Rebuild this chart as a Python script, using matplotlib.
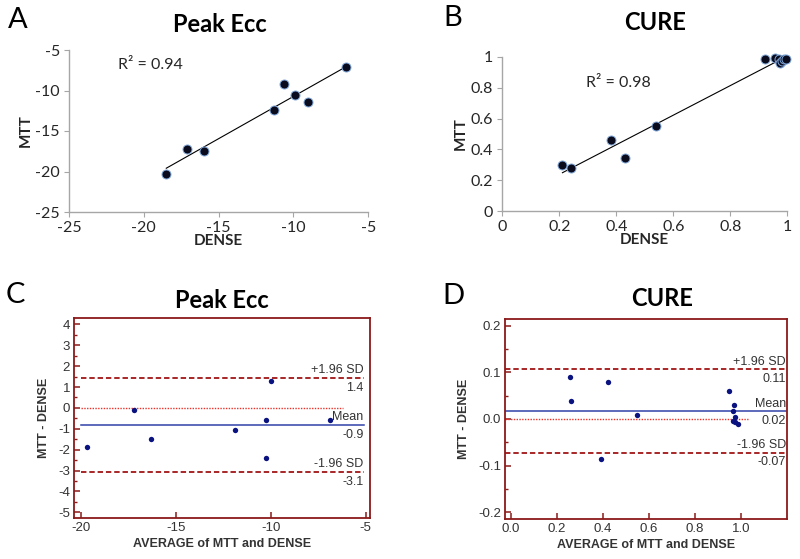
import numpy as np
import matplotlib
matplotlib.use("Agg")
import matplotlib.pyplot as plt

plt.rcParams["axes.unicode_minus"] = False

# ---------------- data ----------------
A_dense = [-18.5, -17.1, -16.0, -11.3, -10.6, -9.9, -9.0, -6.5]
A_mtt = [-20.35, -17.2, -17.45, -12.35, -9.25, -10.5, -11.4, -7.05]

B_dense = [0.211, 0.241, 0.380, 0.430, 0.540, 0.920, 0.957, 0.971, 0.975, 0.980, 0.990, 0.997]
B_mtt = [0.297, 0.278, 0.459, 0.345, 0.550, 0.982, 0.990, 0.985, 0.962, 0.972, 0.985, 0.988]

C_avg = [-19.65, -17.18, -16.29, -11.88, -10.25, -10.25, -10.0, -6.87]
C_diff = [-1.87, -0.09, -1.49, -1.07, -0.58, -2.38, 1.30, -0.58]
C_limits = [1.42, -0.84, -3.09]
C_limit_labels = ["1.4", "-0.9", "-3.1"]

D_avg = [0.255, 0.262, 0.392, 0.422, 0.546, 0.948, 0.968, 0.966, 0.976, 0.965, 0.975, 0.988]
D_diff = [0.089, 0.039, -0.085, 0.080, 0.009, 0.060, 0.031, 0.017, 0.005, -0.005, -0.007, -0.011]
D_limits = [0.1065, 0.0165, -0.0729]
D_limit_labels = ["0.11", "0.02", "-0.07"]

limit_names = ["+1.96 SD", "Mean", "-1.96 SD"]

A_xticks = [-25, -20, -15, -10, -5]
A_yticks = [-25, -20, -15, -10, -5]
B_ticks = [0, 0.2, 0.4, 0.6, 0.8, 1]
B_ticklabels = ["0", "0.2", "0.4", "0.6", "0.8", "1"]
C_xticks = [-20, -15, -10, -5]
C_yticks = [4, 3, 2, 1, 0, -1, -2, -3, -4, -5]
D_xticks = [0.0, 0.2, 0.4, 0.6, 0.8, 1.0]
D_yticks = [0.2, 0.1, 0.0, -0.1, -0.2]

titles = ["Peak Ecc", "CURE", "Peak Ecc", "CURE"]
letters = ["A", "B", "C", "D"]
r2_texts = ["R\u00b2 = 0.94", "R\u00b2 = 0.98"]

# ---------------- figure ----------------
W, H = 800, 559
fig = plt.figure(figsize=(W / 100, H / 100), dpi=100)

def rect(l, r, t, b):
    return [l / W, 1 - b / H, (r - l) / W, (b - t) / H]

SANS1 = "Lato"
SANS2 = "Liberation Sans"
GRAY = "#a6a6a6"
TXT = "#262626"

axA = fig.add_axes(rect(69, 368.3, 50, 212))
axB = fig.add_axes(rect(502.3, 787.3, 56.7, 211.3))
axC = fig.add_axes(rect(74.3, 370, 317.7, 517.7))
axD = fig.add_axes(rect(505.3, 786.7, 319.3, 518.5))

def style_scatter_ax(ax):
    for s in ["top", "right"]:
        ax.spines[s].set_visible(False)
    for s in ["left", "bottom"]:
        ax.spines[s].set_color(GRAY)
        ax.spines[s].set_linewidth(1.0)
    ax.tick_params(direction="out", length=3.5, width=0.8, color=GRAY,
                   labelsize=11.5, labelcolor=TXT, pad=3)
    for lab in ax.get_xticklabels() + ax.get_yticklabels():
        lab.set_fontfamily(SANS1)

# Panel A
axA.scatter(A_dense, A_mtt, s=42, color="#0b0b1e", edgecolors="#7fa6d8",
            linewidths=0.7, zorder=3, clip_on=False)
pa = np.polyfit(A_dense, A_mtt, 1)
xa = np.array([min(A_dense), max(A_dense)])
axA.plot(xa, np.polyval(pa, xa), color="black", lw=0.8, zorder=2)
axA.set_xlim(-25, -5)
axA.set_ylim(-25, -5)
axA.set_xticks(A_xticks)
axA.set_yticks(A_yticks)
style_scatter_ax(axA)
axA.text(-21.75, -6.9, r2_texts[0], fontsize=11.5, family=SANS1, color=TXT,
         ha="left", va="center")

# Panel B
axB.scatter(B_dense, B_mtt, s=42, color="#0b0b1e", edgecolors="#7fa6d8",
            linewidths=0.7, zorder=3, clip_on=False)
pb = np.polyfit(B_dense, B_mtt, 1)
xb = np.array([min(B_dense), max(B_dense)])
axB.plot(xb, np.polyval(pb, xb), color="black", lw=0.8, zorder=2)
axB.set_xlim(0, 1)
axB.set_ylim(0, 1)
axB.set_xticks(B_ticks)
axB.set_xticklabels(B_ticklabels)
axB.set_yticks(B_ticks)
axB.set_yticklabels(B_ticklabels)
style_scatter_ax(axB)
axB.text(0.293, 0.83, r2_texts[1], fontsize=11.5, family=SANS1, color=TXT,
         ha="left", va="center")

for ax in (axA, axB):
    ax.set_xlabel("DENSE", fontsize=11, fontweight="bold", family=SANS1,
                  color=TXT, labelpad=-1)
    ax.set_ylabel("MTT", fontsize=11, fontweight="bold", family=SANS1,
                  color=TXT, labelpad=2)

# Bland-Altman panels
RED = "#8b1a1a"
def style_ba(ax):
    for s in ax.spines.values():
        s.set_color(RED)
        s.set_linewidth(1.3)
    ax.tick_params(which="major", direction="in", length=4.5, width=1.1,
                   color=RED, labelsize=9.5, labelcolor="#333333", pad=3,
                   top=False, right=False)
    ax.tick_params(which="minor", direction="in", length=2.5, width=1.0,
                   color=RED, top=False, right=False)
    for lab in ax.get_xticklabels() + ax.get_yticklabels():
        lab.set_fontfamily(SANS2)
    ax.set_xlabel("AVERAGE of MTT and DENSE", fontsize=9, fontweight="bold",
                  family=SANS2, color="#333333", labelpad=3)
    ax.set_ylabel("MTT - DENSE", fontsize=9, fontweight="bold",
                  family=SANS2, color="#333333", labelpad=6)

def ba_panel(ax, avg, diff, limits, lim_labels, xline, zero_end, off_up, off_dn):
    ax.plot(xline, [limits[0]] * 2, color="#a01515", lw=1.3, ls=(0, (3, 1.6)), zorder=2)
    ax.plot(xline, [limits[2]] * 2, color="#a01515", lw=1.3, ls=(0, (3, 1.6)), zorder=2)
    ax.plot(xline, [limits[1]] * 2, color="#3040a8", lw=1.1, zorder=2)
    ax.plot([xline[0], zero_end], [0, 0], color="#e8322a", lw=1.0,
            ls=(0, (1, 1)), zorder=2)
    ax.scatter(avg, diff, s=15, color="#0a1280", zorder=3, linewidths=0)
    xr = xline[1]
    for val, name, lab in zip(limits, limit_names, lim_labels):
        ax.annotate(name, xy=(xr, val), xytext=(0, off_up), textcoords="offset points",
                    ha="right", va="center", fontsize=9, family=SANS2, color="#333333")
        ax.annotate(lab, xy=(xr, val), xytext=(0, -off_dn), textcoords="offset points",
                    ha="right", va="center", fontsize=9, family=SANS2, color="#333333")

# Panel C
ba_panel(axC, C_avg, C_diff, C_limits, C_limit_labels, [-20, -5.1], -6.2, 5.8, 6.8)
axC.set_xlim(-20.34, -4.77)
axC.set_ylim(-5.26, 4.32)
axC.set_xticks(C_xticks)
axC.set_yticks(C_yticks)
axC.set_yticks(np.arange(-4.5, 4.0, 1.0), minor=True)
style_ba(axC)

# Panel D
ba_panel(axD, D_avg, D_diff, D_limits, D_limit_labels, [-0.025, 1.195], 1.03, 5.6, 6.8)
axD.set_xlim(-0.025, 1.199)
axD.set_ylim(-0.2133, 0.2137)
axD.set_xticks(D_xticks)
axD.set_xticklabels(["%.1f" % v for v in D_xticks])
axD.set_yticks(D_yticks)
axD.set_yticklabels(["%.1f" % v for v in D_yticks])
axD.set_yticks(np.arange(-0.15, 0.2, 0.1), minor=True)
style_ba(axD)

# Titles and panel letters
title_pos = [(220, 25), (655, 23), (221.7, 300.7), (661.7, 299)]
letter_pos = [(18, 20), (453, 18), (15, 295), (453, 296)]
for t, (x, y) in zip(titles, title_pos):
    fig.text(x / W, 1 - y / H, t, fontsize=17, fontweight="bold", family=SANS1,
             ha="center", va="center", color="black")
for t, (x, y) in zip(letters, letter_pos):
    fig.text(x / W, 1 - y / H, t, fontsize=21, family=SANS1,
             ha="center", va="center", color="black")

fig.savefig("out.png", dpi=100)
